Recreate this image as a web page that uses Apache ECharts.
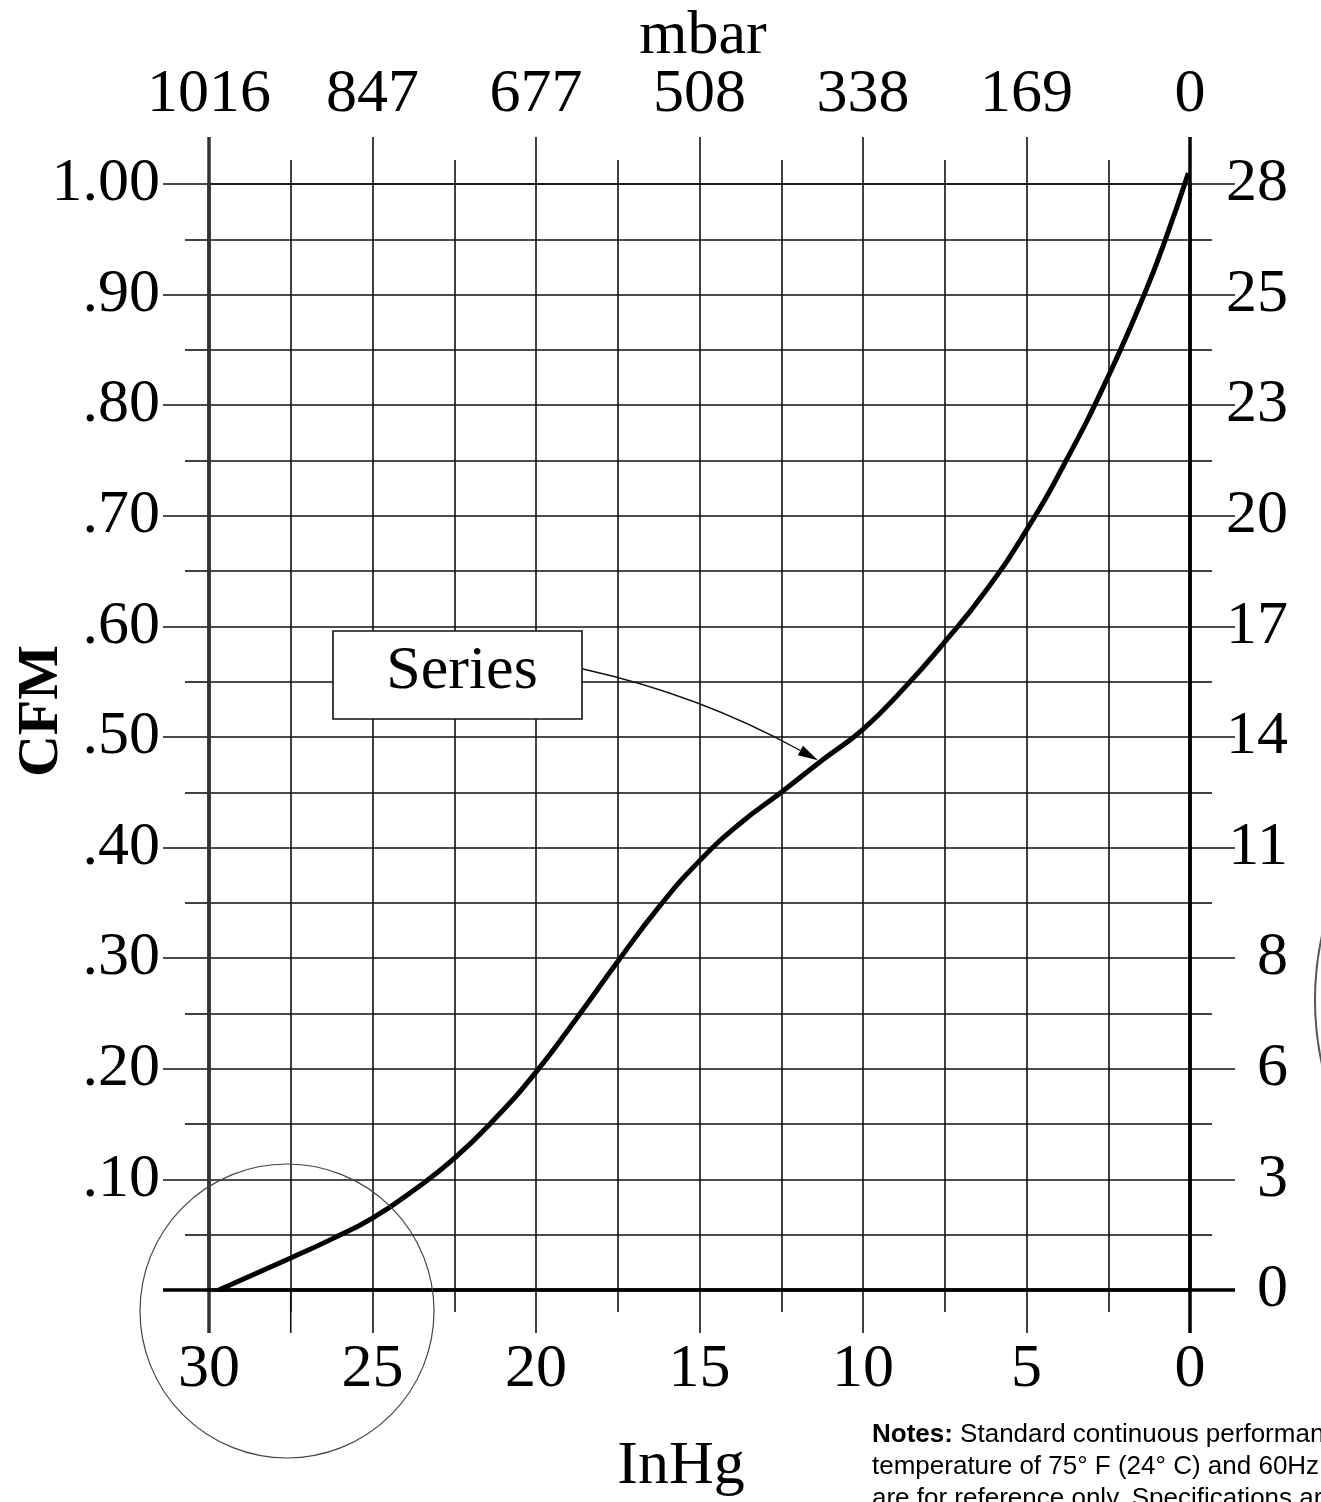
<!DOCTYPE html>
<html>
<head>
<meta charset="utf-8">
<script src="https://cdn.jsdelivr.net/npm/echarts@6/dist/echarts.min.js"></script>
<style>
  html, body { margin: 0; padding: 0; background: #fff; }
  #chart { width: 1321px; height: 1502px; }
</style>
</head>
<body>
<div id="chart"></div>
<script>
// ---- data ----
const inHg = [29.7, 27.5, 26.25, 25, 23.75, 22.5, 21.25, 20, 18.75, 17.5, 16.25, 15, 13.75, 12.5, 11.25, 10, 8.75, 7.5, 6.25, 5, 3.75, 2.5, 1.4, 0.75, 0.05];
const cfm  = [0, 0.029, 0.046, 0.065, 0.09, 0.119, 0.155, 0.197, 0.246, 0.297, 0.346, 0.388, 0.422, 0.45, 0.479, 0.507, 0.544, 0.586, 0.632, 0.687, 0.752, 0.826, 0.90, 0.95, 1.01];
const leftTicks  = ['', '.10', '.20', '.30', '.40', '.50', '.60', '.70', '.80', '.90', '1.00'];
const rightTicks = ['0', '3', '6', '8', '11', '14', '17', '20', '23', '25', '28'];
const inHgTicks  = ['0', '5', '10', '15', '20', '25', '30'];
const mbarTicks  = ['0', '169', '338', '508', '677', '847', '1016'];
const seriesName = 'Series';
const notesLines = [
  ['Notes:', ' Standard continuous performance at an ambient'],
  ['', 'temperature of 75° F (24° C) and 60Hz operation. Values'],
  ['', 'are for reference only. Specifications are subject to change.']
];
const arrowTarget = [11.38, 0.479];

const serif = '"Liberation Serif", "Times New Roman", serif';
const lineCol = '#111';
const thin = 1.6;
const thick = 3.5;

const chart = echarts.init(document.getElementById('chart'), null, { renderer: 'canvas' });

const option = {
  animation: false,
  backgroundColor: '#fff',
  grid: { left: 209, right: 131, top: 184, bottom: 212, containLabel: false },
  xAxis: [
    {
      type: 'value', position: 'bottom', min: 0, max: 30, interval: 5, inverse: true,
      axisLine: { show: true, onZero: false, lineStyle: { color: lineCol, width: thick } },
      axisTick: { show: true, length: 43, lineStyle: { color: lineCol, width: thin } },
      minorTick: { show: true, splitNumber: 2, length: 22, lineStyle: { color: lineCol, width: thin } },
      splitLine: { show: true, lineStyle: { color: lineCol, width: thin } },
      minorSplitLine: { show: true, lineStyle: { color: lineCol, width: thin } },
      axisLabel: { margin: 49, fontSize: 62, fontFamily: serif, color: '#000',
        formatter: v => inHgTicks[Math.round(v / 5)] }
    },
    {
      type: 'value', position: 'top', min: 0, max: 30, interval: 5, inverse: true,
      axisLine: { show: true, onZero: false, lineStyle: { color: lineCol, width: thin } },
      axisTick: { show: true, length: 47, lineStyle: { color: lineCol, width: thin } },
      minorTick: { show: true, splitNumber: 2, length: 24, lineStyle: { color: lineCol, width: thin } },
      splitLine: { show: false },
      axisLabel: { margin: 58, fontSize: 62, fontFamily: serif, color: '#000',
        formatter: v => mbarTicks[Math.round(v / 5)] }
    }
  ],
  yAxis: [
    {
      type: 'value', position: 'left', min: 0, max: 1, interval: 0.1,
      axisLine: { show: true, onZero: false, lineStyle: { color: '#333', width: thick } },
      axisTick: { show: true, length: 46, lineStyle: { color: lineCol, width: thin } },
      minorTick: { show: true, splitNumber: 2, length: 24, lineStyle: { color: lineCol, width: thin } },
      splitLine: { show: true, lineStyle: { color: lineCol, width: thin } },
      minorSplitLine: { show: true, lineStyle: { color: lineCol, width: thin } },
      axisLabel: { margin: 49, fontSize: 62, fontFamily: serif, color: '#000',
        formatter: v => leftTicks[Math.round(v * 10)] }
    },
    {
      type: 'value', position: 'right', min: 0, max: 1, interval: 0.1,
      axisLine: { show: true, onZero: false, lineStyle: { color: '#000', width: thick } },
      axisTick: { show: true, length: 45, lineStyle: { color: lineCol, width: thin } },
      minorTick: { show: true, splitNumber: 2, length: 22, lineStyle: { color: lineCol, width: thin } },
      splitLine: { show: false },
      axisLabel: { margin: 98, align: 'right', fontSize: 62, fontFamily: serif, color: '#000',
        formatter: v => rightTicks[Math.round(v * 10)] }
    }
  ],
  series: [
    {
      name: seriesName,
      type: 'line',
      xAxisIndex: 0, yAxisIndex: 0,
      data: inHg.map((x, i) => [x, cfm[i]]),
      smooth: 0.5,
      showSymbol: false,
      symbol: 'none',
      clip: false,
      lineStyle: { color: '#000', width: 5 },
      z: 5
    }
  ]
};
chart.setOption(option);

// ---- annotations (text, callout, circles, frame extensions) ----
const px = (x, y) => chart.convertToPixel({ xAxisIndex: 0, yAxisIndex: 0 }, [x, y]);
const pLeftTop = px(30, 1), pLeftBot = px(30, 0), pRightTop = px(0, 1), pRightBot = px(0, 0);
const pMinor = px(27.5, 0);

const tip = px(arrowTarget[0], arrowTarget[1]);
const start = [583, 669];
const ctrl = [700, 695];
const dx = tip[0] - ctrl[0], dy = tip[1] - ctrl[1];
const ang = Math.atan2(dy, dx);
const hl = 20, hw = 5.5;
const bx = tip[0] - hl * Math.cos(ang), by = tip[1] - hl * Math.sin(ang);
const arrowHead = [
  [tip[0], tip[1]],
  [bx + hw * Math.sin(ang), by - hw * Math.cos(ang)],
  [bx - hw * Math.sin(ang), by + hw * Math.cos(ang)]
];

const graphics = [
  // thick frame extensions (left/right borders and zero line run past the grid)
  { type: 'line', shape: { x1: pLeftTop[0], y1: pLeftTop[1] - 47, x2: pLeftBot[0], y2: pLeftBot[1] + 43 }, style: { stroke: '#333', lineWidth: thick }, z: 4 },
  { type: 'line', shape: { x1: pRightTop[0], y1: pRightTop[1] - 47, x2: pRightBot[0], y2: pRightBot[1] + 43 }, style: { stroke: '#000', lineWidth: thick }, z: 4 },
  { type: 'line', shape: { x1: pLeftBot[0] - 46, y1: pLeftBot[1], x2: pRightBot[0] + 45, y2: pRightBot[1] }, style: { stroke: '#000', lineWidth: thick }, z: 4 },
  { type: 'line', shape: { x1: pMinor[0], y1: pMinor[1], x2: pMinor[0], y2: pMinor[1] + 43 }, style: { stroke: lineCol, lineWidth: thin }, z: 4 },
  { type: 'text', style: { text: 'mbar', x: 703, y: 37, font: '62px ' + serif, fill: '#000', align: 'center', verticalAlign: 'middle' }, z: 10 },
  { type: 'text', style: { text: 'InHg', x: 681, y: 1467, font: '62px ' + serif, fill: '#000', align: 'center', verticalAlign: 'middle' }, z: 10 },
  { type: 'text', x: 42, y: 711, rotation: Math.PI / 2, style: { text: 'CFM', x: 0, y: 0, font: 'bold 58px ' + serif, fill: '#000', align: 'center', verticalAlign: 'middle' }, z: 10 },
  { type: 'rect', shape: { x: 333, y: 631, width: 249, height: 88 }, style: { fill: '#fff', stroke: '#111', lineWidth: 1.6 }, z: 10 },
  { type: 'text', style: { text: seriesName, x: 462, y: 672, font: '62px ' + serif, fill: '#000', align: 'center', verticalAlign: 'middle' }, z: 11 },
  { type: 'bezierCurve', shape: { x1: start[0], y1: start[1], cpx1: ctrl[0], cpy1: ctrl[1], x2: bx, y2: by }, style: { stroke: '#111', lineWidth: 1.3, fill: null }, z: 10 },
  { type: 'polygon', shape: { points: arrowHead }, style: { fill: '#000' }, z: 10 },
  { type: 'circle', shape: { cx: 287, cy: 1311, r: 147 }, style: { fill: null, stroke: '#444', lineWidth: 1.2 }, z: 10 },
  { type: 'circle', shape: { cx: 1615, cy: 1000, r: 300 }, style: { fill: null, stroke: '#555', lineWidth: 2 }, z: 10 }
];
notesLines.forEach((ln, i) => {
  graphics.push({
    type: 'text', z: 10,
    style: {
      x: 872, y: 1448 + i * 32,
      rich: { b: { font: 'bold 26px "Liberation Sans", Arial, sans-serif', fill: '#000' },
              n: { font: '26px "Liberation Sans", Arial, sans-serif', fill: '#000' } },
      text: (ln[0] ? '{b|' + ln[0] + '}' : '') + '{n|' + ln[1] + '}',
      verticalAlign: 'bottom', align: 'left'
    }
  });
});
chart.setOption({ graphic: graphics });
</script>
</body>
</html>
